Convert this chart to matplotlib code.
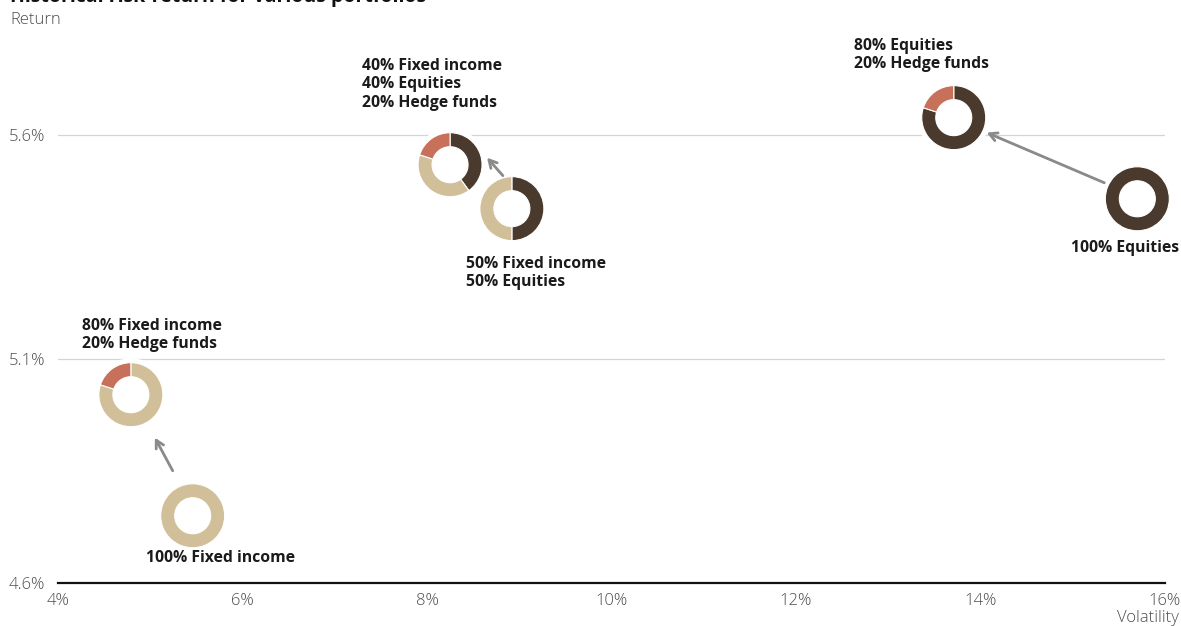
"""Historical risk/return for various portfolios: donut markers on a volatility/return grid."""

import matplotlib

matplotlib.use("Agg")
import matplotlib.pyplot as plt
import matplotlib.ticker as mticker
from matplotlib.patches import Circle, Wedge
from matplotlib.transforms import ScaledTranslation, offset_copy

# --- data -------------------------------------------------------------------
LABELS = [
    "100% Fixed income",
    "80% Fixed income\n20% Hedge funds",
    "50% Fixed income\n50% Equities",
    "40% Fixed income\n40% Equities\n20% Hedge funds",
    "100% Equities",
    "80% Equities\n20% Hedge funds",
]
VOLATILITY = [5.46, 4.79, 8.92, 8.25, 15.70, 13.71]
RETURN = [4.75, 5.02, 5.435, 5.533, 5.457, 5.638]
EQUITIES = [0, 0, 50, 40, 100, 80]
FIXED_INCOME = [100, 80, 50, 40, 0, 0]
HEDGE_FUNDS = [0, 20, 0, 20, 0, 20]

# arrows: from pure portfolio (index) to diversified one (index)
ARROWS = [(0, 1), (2, 3), (4, 5)]

X_TICKS = [4, 6, 8, 10, 12, 14, 16]
Y_TICKS = [4.6, 5.1, 5.6]

# --- style ------------------------------------------------------------------
C_EQ = "#4a3a2d"
C_FI = "#d1bf9a"
C_HF = "#c7705a"
C_ARROW = "#8a8a8a"
C_GRID = "#d4d4d4"
C_TICK = "#4d4d4d"

R_OUT = 0.32  # inches
R_W = 0.14

# label offsets (pixels, top-left of text block relative to donut centre, +y up)
LABEL_OFFSETS = [(-47, -34), (-49, 77), (-46, -47), (-88, 107), (-66, -41), (-100, 80)]
# arrow tail / head offsets from donut centres (pixels, +y up)
ARROW_TAIL = [(-20, 45), (-9, 33), (-33, 16)]
ARROW_HEAD = [(24, -43), (37, 7), (33, -15)]

plt.rcParams["font.family"] = ["Open Sans", "DejaVu Sans"]

fig = plt.figure(figsize=(11.81, 6.26), dpi=100)
ax = fig.add_axes([58 / 1181, 43 / 626, (1165 - 58) / 1181, (583 - 45) / 626])
ax.set_xlim(4, 16)
ax.set_ylim(4.6, 5.8)

for s in ("top", "right", "left"):
    ax.spines[s].set_visible(False)
ax.spines["bottom"].set_color("#111111")
ax.spines["bottom"].set_linewidth(1.6)

ax.set_xticks(X_TICKS)
ax.set_yticks(Y_TICKS)
ax.xaxis.set_major_formatter(mticker.FuncFormatter(lambda v, _: f"{v:.0f}%"))
ax.yaxis.set_major_formatter(mticker.FuncFormatter(lambda v, _: f"{v:.1f}%"))
ax.tick_params(axis="both", length=0, labelsize=12, labelcolor=C_TICK)
ax.tick_params(axis="x", pad=7)
ax.tick_params(axis="y", pad=9)
for lbl in ax.get_xticklabels() + ax.get_yticklabels():
    lbl.set_fontweight("light")
ax.grid(axis="y", color=C_GRID, linewidth=0.9)
ax.set_axisbelow(True)


def donut(x, y, shares, colors):
    trans = fig.dpi_scale_trans + ScaledTranslation(x, y, ax.transData)
    ax.add_patch(Circle((0, 0), R_OUT + 0.045, transform=trans, facecolor="white",
                        edgecolor="none", zorder=3, clip_on=False))
    start = 0.0
    for share, col in zip(shares, colors):
        if share <= 0:
            continue
        end = start + share / 100.0
        ax.add_patch(Wedge((0, 0), R_OUT, 90 - end * 360, 90 - start * 360, width=R_W,
                           transform=trans, facecolor=col, edgecolor="white",
                           linewidth=0.8, zorder=4, clip_on=False))
        start = end


for i in range(len(LABELS)):
    donut(VOLATILITY[i], RETURN[i], [EQUITIES[i], FIXED_INCOME[i], HEDGE_FUNDS[i]],
          [C_EQ, C_FI, C_HF])
    dx, dy = LABEL_OFFSETS[i]
    ax.annotate(LABELS[i], xy=(VOLATILITY[i], RETURN[i]), xytext=(dx, dy),
                textcoords="offset pixels", ha="left", va="top", fontsize=11.3,
                fontweight="bold", color="#1a1a1a", linespacing=1.2, zorder=5)

for (a, b), tail, head in zip(ARROWS, ARROW_TAIL, ARROW_HEAD):
    ax.annotate("", xy=(VOLATILITY[b], RETURN[b]),
                xycoords=offset_copy(ax.transData, fig, x=head[0], y=head[1], units="dots"),
                xytext=(VOLATILITY[a], RETURN[a]),
                textcoords=offset_copy(ax.transData, fig, x=tail[0], y=tail[1], units="dots"),
                arrowprops=dict(arrowstyle="->,head_length=0.55,head_width=0.3",
                                color=C_ARROW, lw=2.0, shrinkA=0, shrinkB=0),
                zorder=5)

fig.text(10 / 1181, 1 - 20 / 626, "Return", fontsize=12, fontweight="light",
         color=C_TICK, va="center", ha="left")
fig.text(1179 / 1181, 1 - 618 / 626, "Volatility", fontsize=12, fontweight="light",
         color=C_TICK, va="center", ha="right")
fig.text(10 / 1181, 1 - 2 / 626, "Historical risk-return for various portfolios",
         fontsize=14, fontweight="bold", color="#111111", va="baseline", ha="left")

fig.savefig("out.png", dpi=100)
